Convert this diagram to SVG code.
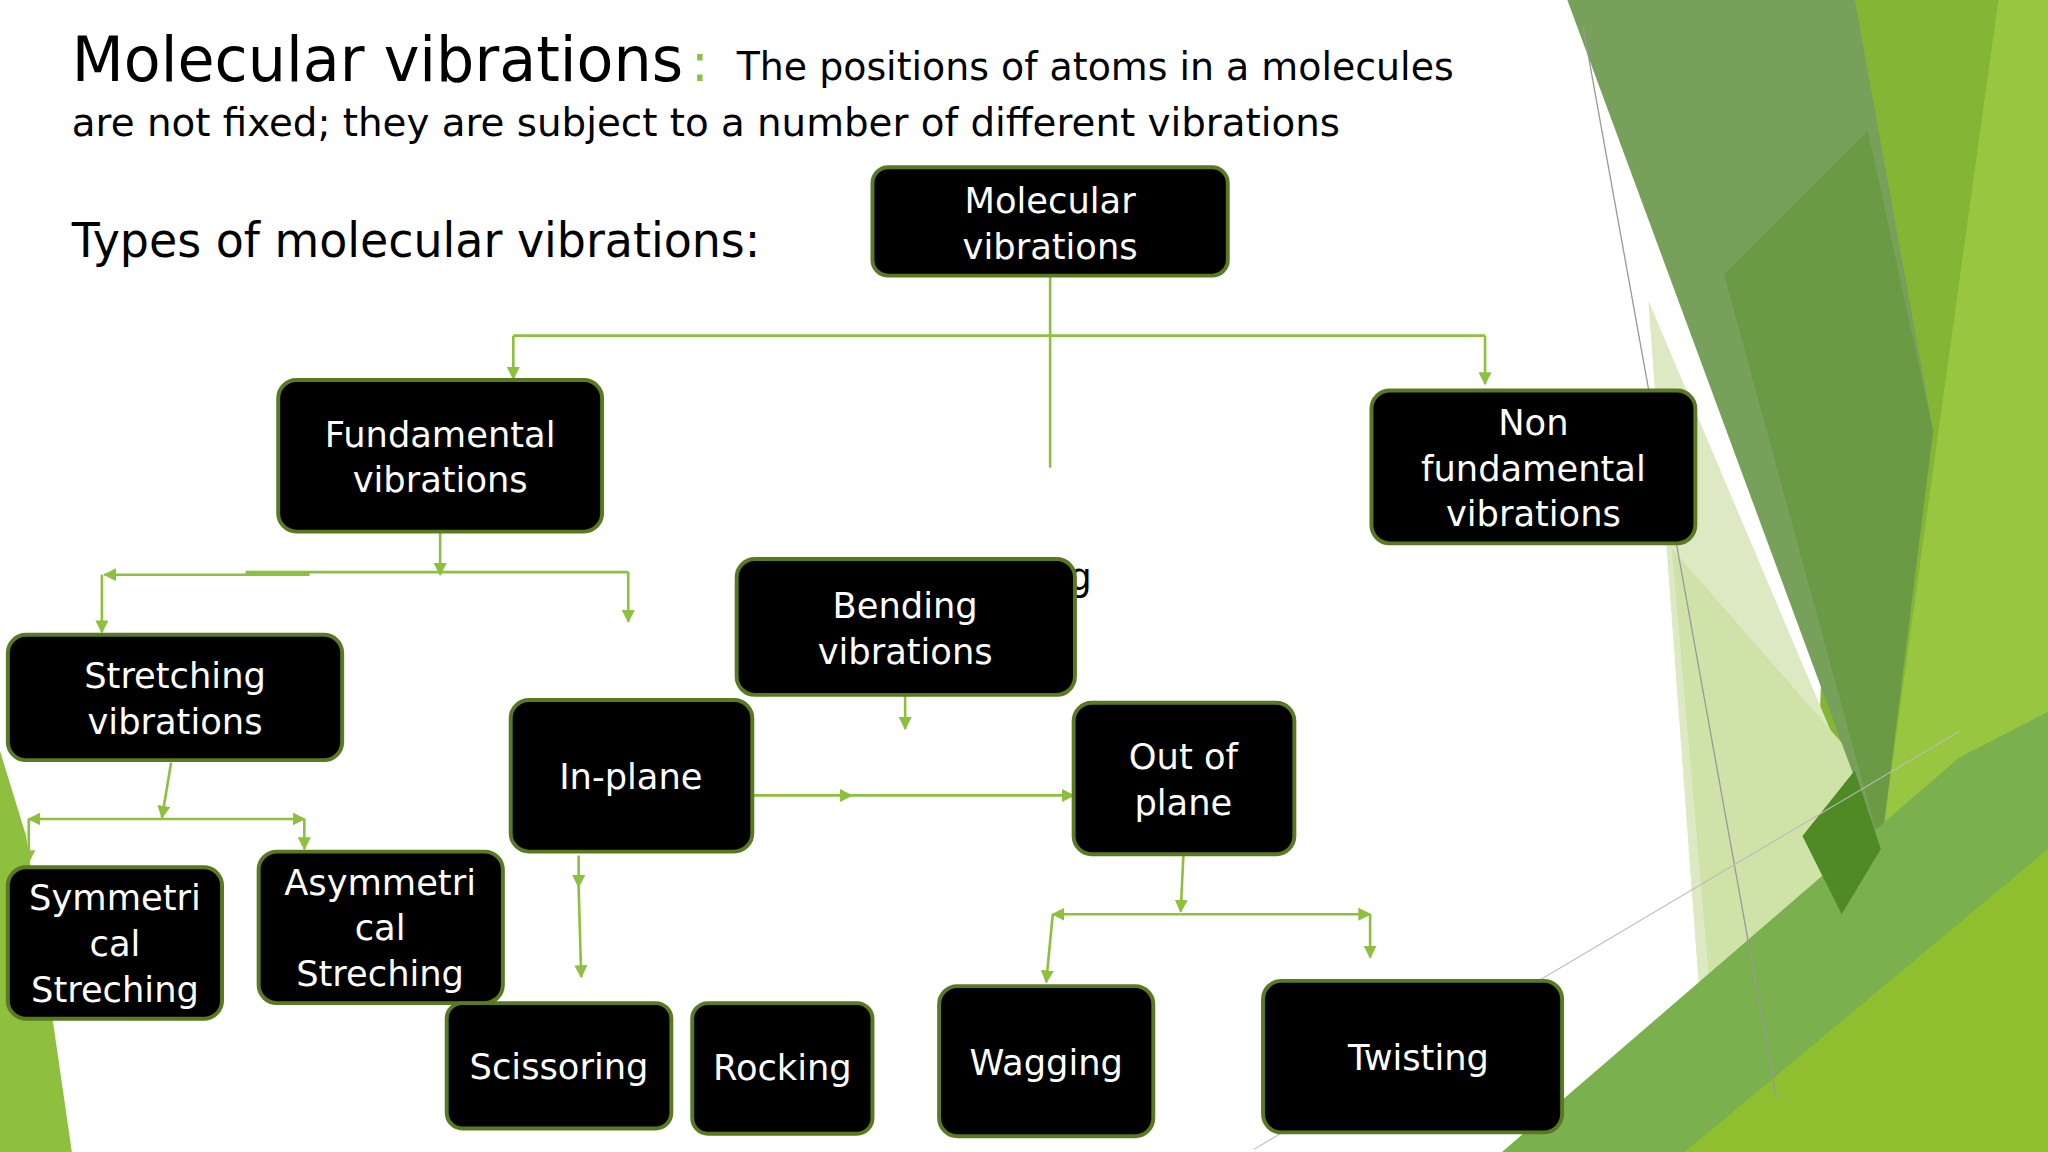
<svg xmlns="http://www.w3.org/2000/svg" width="2048" height="1152" viewBox="0 0 2048 1152">
<style>
.box{fill:#000;stroke:#5a7a22;stroke-width:3}
.bt{fill:#fff;font-family:"DejaVu Sans",sans-serif;font-size:27px;text-anchor:middle}
.c{fill:none;stroke:#8dc03f;stroke-width:2}
.h{font-family:"DejaVu Sans",sans-serif;fill:#000}
</style>
<defs>
<marker id="a" viewBox="0 0 10 10" refX="9" refY="5" markerWidth="5" markerHeight="5" orient="auto"><path d="M0,0L10,5L0,10z" fill="#8dc03f"/></marker>
</defs>
<rect width="2048" height="1152" fill="#fff"/>
<g transform="scale(1.30612)">
<g id="background">
<polygon points="1415,0 1568,0 1568,882 1380,882" fill="#84b534"/>
<polygon points="1530,0 1568,0 1568,700 1430,720" fill="#98c640"/>
<polygon points="1262,230 1440,650 1420,720 1345,882 1310,882" fill="#dde9c2"/>
<polygon points="1280,420 1420,580 1440,650 1400,760 1345,882 1320,882" fill="#cfe2a8"/>
<polygon points="1200,0 1420,0 1480,330 1440,650" fill="#77a05a"/>
<polygon points="1320,210 1430,100 1480,330 1440,650" fill="#6a9a44"/>
<polygon points="1150,882 1500,580 1568,545 1568,882" fill="#7ab04d"/>
<polygon points="1290,882 1568,650 1568,882" fill="#8fbf2e"/>
<polygon points="1380,640 1420,590 1440,650 1410,700" fill="#4f8a25"/>
<polygon points="0,575 20,640 55,882 0,882" fill="#8ebf3f"/>
<line x1="1212" y1="20" x2="1360" y2="840" stroke="#999" stroke-width="1"/>
<line x1="960" y1="880" x2="1500" y2="560" stroke="#bbb" stroke-width="0.8"/>
</g>
<g id="title">
<text class="h" x="55" y="62" font-size="48" textLength="468" lengthAdjust="spacingAndGlyphs">Molecular vibrations</text>
<text x="529" y="62" font-size="40" fill="#8dc03f" font-family="DejaVu Sans,sans-serif">:</text>
<text class="h" x="564" y="61" font-size="30" textLength="549" lengthAdjust="spacingAndGlyphs">The positions of atoms in a molecules</text>
<text class="h" x="55" y="104" font-size="30" textLength="971" lengthAdjust="spacingAndGlyphs">are not fixed; they are subject to a number of different vibrations</text>
<text class="h" x="55" y="197" font-size="37" textLength="527" lengthAdjust="spacingAndGlyphs">Types of molecular vibrations:</text>
<text class="h" x="818" y="452" font-size="28">g</text>
</g>
<g id="connectors">
<path class="c" d="M804,211V358"/>
<path class="c" d="M393,257H1137"/>
<path class="c" d="M393,257V290" marker-end="url(#a)"/>
<path class="c" d="M1137,257V294" marker-end="url(#a)"/>
<path class="c" d="M337,407V440" marker-end="url(#a)"/>
<path class="c" d="M481,438H188M237,440H80" marker-end="url(#a)"/>
<path class="c" d="M78,440V484" marker-end="url(#a)"/>
<path class="c" d="M481,438V476" marker-end="url(#a)"/>
<path class="c" d="M131,584L124,626" marker-end="url(#a)"/>
<path class="c" d="M124,627H22" marker-end="url(#a)"/>
<path class="c" d="M124,627H233" marker-end="url(#a)"/>
<path class="c" d="M22,627V660" marker-end="url(#a)"/>
<path class="c" d="M233,627V650" marker-end="url(#a)"/>
<path class="c" d="M693,532V558" marker-end="url(#a)"/>
<path class="c" d="M443,655V679" marker-end="url(#a)"/>
<path class="c" d="M443,679L445,748" marker-end="url(#a)"/>
<path class="c" d="M576,609H652" marker-end="url(#a)"/>
<path class="c" d="M652,609H822" marker-end="url(#a)"/>
<path class="c" d="M906,655L904,698" marker-end="url(#a)"/>
<path class="c" d="M904,700H806" marker-end="url(#a)"/>
<path class="c" d="M904,700H1049" marker-end="url(#a)"/>
<path class="c" d="M806,700L801,752" marker-end="url(#a)"/>
<path class="c" d="M1049,700V733" marker-end="url(#a)"/>
</g>
<g id="n-molecular"><rect class="box" x="668" y="128" width="272" height="83" rx="12"/><text class="bt" x="804" y="163">Molecular</text><text class="bt" x="804" y="198">vibrations</text></g>
<g id="n-fundamental"><rect class="box" x="213" y="291" width="248" height="116" rx="14"/><text class="bt" x="337" y="342">Fundamental</text><text class="bt" x="337" y="377">vibrations</text></g>
<g id="n-nonfundamental"><rect class="box" x="1050" y="299" width="248" height="117" rx="14"/><text class="bt" x="1174" y="333">Non</text><text class="bt" x="1174" y="368">fundamental</text><text class="bt" x="1174" y="403">vibrations</text></g>
<g id="n-bending"><rect class="box" x="564" y="428" width="259" height="104" rx="14"/><text class="bt" x="693" y="473">Bending</text><text class="bt" x="693" y="508">vibrations</text></g>
<g id="n-stretching"><rect class="box" x="6" y="486" width="256" height="96" rx="14"/><text class="bt" x="134" y="527">Stretching</text><text class="bt" x="134" y="562">vibrations</text></g>
<g id="n-inplane"><rect class="box" x="391" y="536" width="185" height="116" rx="14"/><text class="bt" x="483" y="604">In-plane</text></g>
<g id="n-outofplane"><rect class="box" x="822" y="538" width="169" height="116" rx="14"/><text class="bt" x="906" y="589">Out of</text><text class="bt" x="906" y="624">plane</text></g>
<g id="n-symmetrical"><rect class="box" x="6" y="664" width="164" height="116" rx="14"/><text class="bt" x="88" y="697">Symmetri</text><text class="bt" x="88" y="732">cal</text><text class="bt" x="88" y="767">Streching</text></g>
<g id="n-asymmetrical"><rect class="box" x="198" y="652" width="187" height="116" rx="14"/><text class="bt" x="291" y="685">Asymmetri</text><text class="bt" x="291" y="720">cal</text><text class="bt" x="291" y="755">Streching</text></g>
<g id="n-scissoring"><rect class="box" x="342" y="768" width="172" height="96" rx="12"/><text class="bt" x="428" y="826">Scissoring</text></g>
<g id="n-rocking"><rect class="box" x="530" y="768" width="138" height="100" rx="12"/><text class="bt" x="599" y="827">Rocking</text></g>
<g id="n-wagging"><rect class="box" x="719" y="755" width="164" height="115" rx="14"/><text class="bt" x="801" y="823">Wagging</text></g>
<g id="n-twisting"><rect class="box" x="967" y="751" width="229" height="116" rx="14"/><text class="bt" x="1086" y="819">Twisting</text></g>
</g>
</svg>
